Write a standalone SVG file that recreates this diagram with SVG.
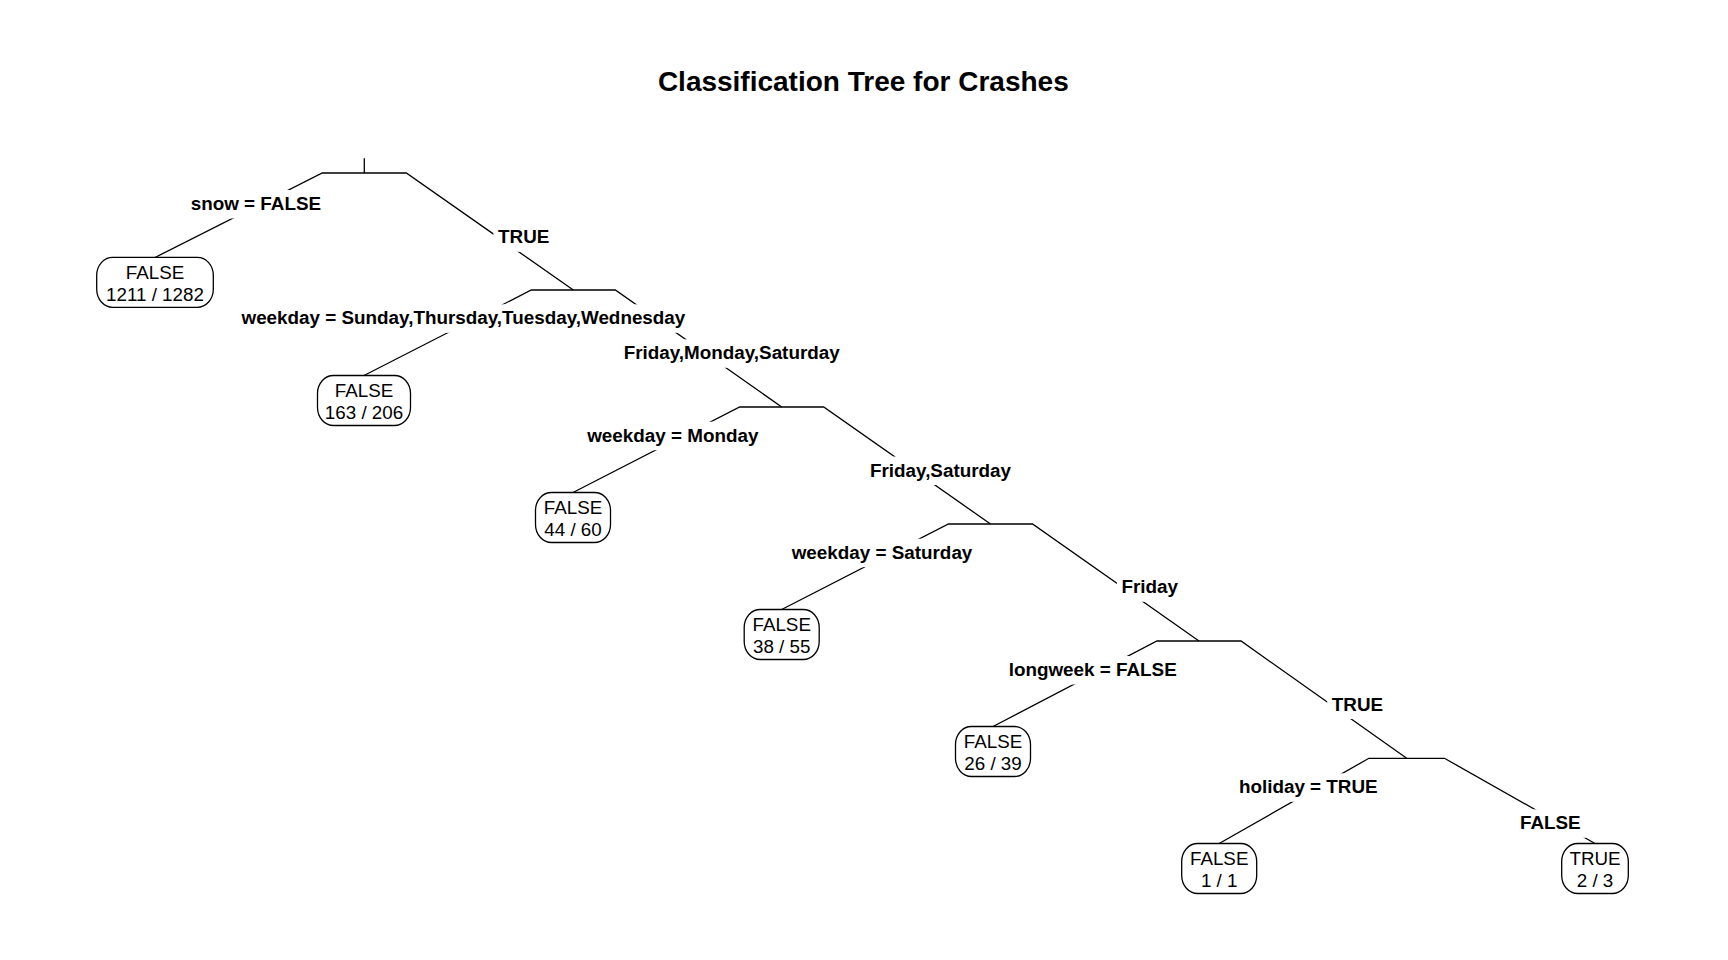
<svg xmlns="http://www.w3.org/2000/svg" width="1728" height="960" viewBox="0 0 1728 960">
<style>
  text { font-family: "Liberation Sans", Arial, Helvetica, sans-serif; fill: #000; }
  .title { font-size: 28px; font-weight: bold; text-anchor: middle; }
  .lbl { font-size: 18.85px; font-weight: bold; text-anchor: middle; }
  .lbg { fill: #fff; stroke: none; }
  .leaf rect { fill: #fff; stroke: #000; stroke-width: 1.3; }
  .leaf text { font-size: 18.8px; text-anchor: middle; }
  #connectors path { fill: none; stroke: #000; stroke-width: 1.3; stroke-linejoin: miter; }
</style>
<rect width="1728" height="960" fill="#fff"/>
<text class="title" x="863.3" y="90.7">Classification Tree for Crashes</text>

<g id="connectors">
  <path d="M364.3 158.3 V173"/>
  <path d="M155 257.5 L322.3 173 L406.3 173 L573.3 290"/>
  <path d="M364 375.5 L531.3 290 L615.3 290 L781.7 407"/>
  <path d="M573 492.5 L739.7 407 L823.7 407 L990.5 524"/>
  <path d="M781.7 609.5 L948.5 524 L1032.5 524 L1199 641"/>
  <path d="M993 726.5 L1157 641 L1241 641 L1406.7 758.3"/>
  <path d="M1219.2 843.5 L1368.9 758.3 L1444.5 758.3 L1595 843.5"/>
</g>

<g id="split-1">
  <rect class="lbg" x="185.7" y="190" width="140.4" height="28.5"/>
  <text class="lbl" x="255.9" y="210">snow = FALSE</text>
  <rect class="lbg" x="493.4" y="223.3" width="60.6" height="28.5"/>
  <text class="lbl" x="523.7" y="243.3">TRUE</text>
</g>
<g id="split-2">
  <rect class="lbg" x="234.3" y="304.3" width="458.2" height="28.5"/>
  <text class="lbl" x="463.4" y="324.3">weekday = Sunday,Thursday,Tuesday,Wednesday</text>
  <rect class="lbg" x="617.8" y="339.3" width="227.8" height="28.5"/>
  <text class="lbl" x="731.7" y="359.3">Friday,Monday,Saturday</text>
</g>
<g id="split-3">
  <rect class="lbg" x="582.7" y="421.7" width="180.2" height="28.5"/>
  <text class="lbl" x="672.8" y="441.7">weekday = Monday</text>
  <rect class="lbg" x="864.7" y="456.5" width="151.6" height="28.5"/>
  <text class="lbl" x="940.5" y="476.5">Friday,Saturday</text>
</g>
<g id="split-4">
  <rect class="lbg" x="787.1" y="538.7" width="189.8" height="28.5"/>
  <text class="lbl" x="882" y="558.7">weekday = Saturday</text>
  <rect class="lbg" x="1116.9" y="573.3" width="65.6" height="28.5"/>
  <text class="lbl" x="1149.7" y="593.3">Friday</text>
</g>
<g id="split-5">
  <rect class="lbg" x="1003.6" y="656" width="178.2" height="28.5"/>
  <text class="lbl" x="1092.7" y="676">longweek = FALSE</text>
  <rect class="lbg" x="1327.2" y="690.5" width="60.6" height="28.5"/>
  <text class="lbl" x="1357.5" y="710.5">TRUE</text>
</g>
<g id="split-6">
  <rect class="lbg" x="1234.4" y="773.3" width="147.8" height="28.5"/>
  <text class="lbl" x="1308.3" y="793.3">holiday = TRUE</text>
  <rect class="lbg" x="1514.8" y="809.3" width="71" height="28.5"/>
  <text class="lbl" x="1550.3" y="829.3">FALSE</text>
</g>

<g id="leaf-1" class="leaf">
  <rect x="96.7" y="257.3" width="116.6" height="50" rx="16" ry="18"/>
  <text x="155" y="279.4">FALSE</text>
  <text x="155" y="301.1">1211 / 1282</text>
</g>
<g id="leaf-2" class="leaf">
  <rect x="317.5" y="375.5" width="93" height="50" rx="16" ry="18"/>
  <text x="364" y="397.4">FALSE</text>
  <text x="364" y="418.9">163 / 206</text>
</g>
<g id="leaf-3" class="leaf">
  <rect x="535.5" y="492.5" width="75" height="50" rx="16" ry="18"/>
  <text x="573" y="514.4">FALSE</text>
  <text x="573" y="535.9">44 / 60</text>
</g>
<g id="leaf-4" class="leaf">
  <rect x="744.2" y="609.5" width="75" height="50" rx="16" ry="18"/>
  <text x="781.7" y="631.4">FALSE</text>
  <text x="781.7" y="652.9">38 / 55</text>
</g>
<g id="leaf-5" class="leaf">
  <rect x="955.5" y="726.5" width="75" height="50" rx="16" ry="18"/>
  <text x="993" y="748.4">FALSE</text>
  <text x="993" y="769.9">26 / 39</text>
</g>
<g id="leaf-6" class="leaf">
  <rect x="1181.7" y="843.5" width="75" height="50" rx="16" ry="18"/>
  <text x="1219.2" y="865.4">FALSE</text>
  <text x="1219.2" y="886.9">1 / 1</text>
</g>
<g id="leaf-7" class="leaf">
  <rect x="1561.7" y="843.5" width="66.6" height="50" rx="16" ry="18"/>
  <text x="1595" y="865.4">TRUE</text>
  <text x="1595" y="886.9">2 / 3</text>
</g>
</svg>
